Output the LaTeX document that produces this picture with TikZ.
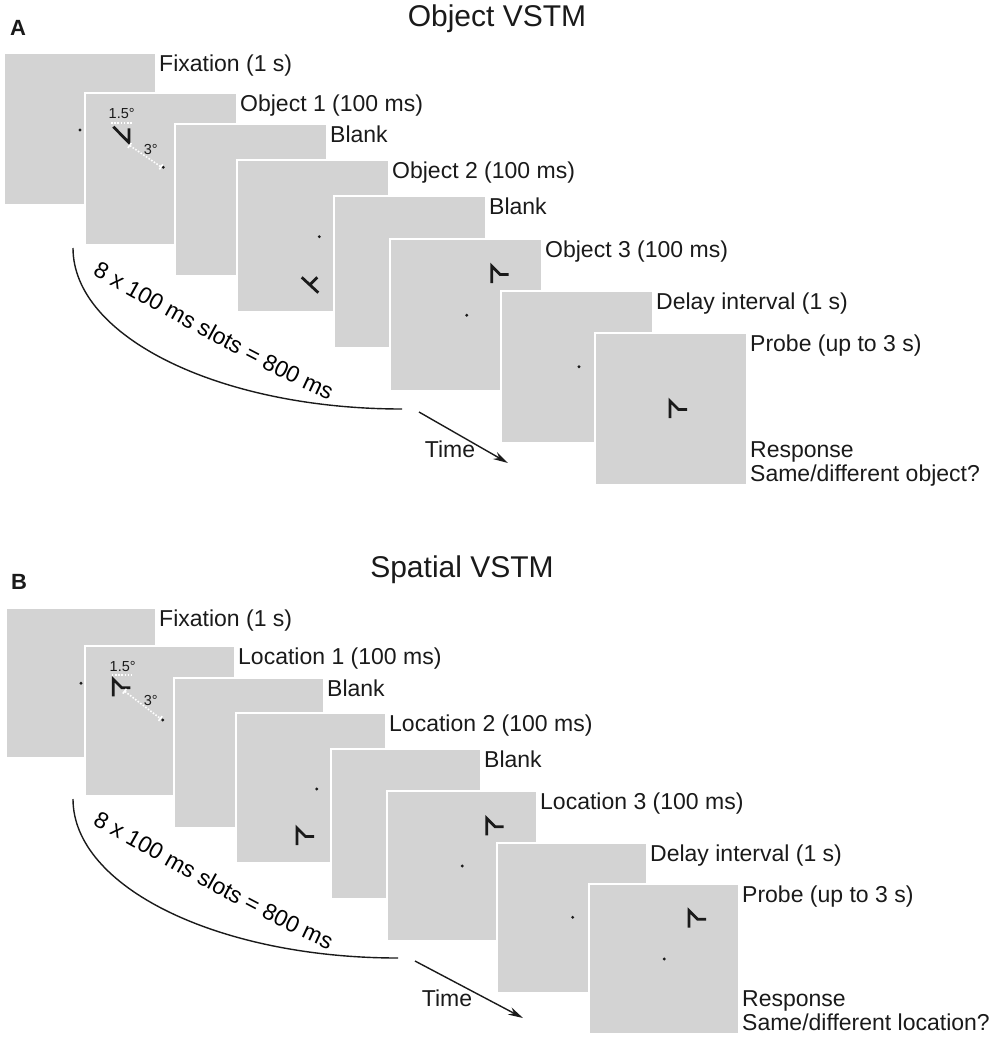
\documentclass[tikz,border=0pt]{standalone}
\usepackage{fontspec}
\setmainfont{Liberation Sans}
\usepackage{tikz}
\usetikzlibrary{arrows.meta,decorations.text,positioning}
\definecolor{screen}{HTML}{D3D3D3}
\definecolor{ink}{HTML}{1A1A1A}
\newcommand{\labfont}{\fontsize{23}{26}\selectfont}
\newcommand{\slotfont}{\fontsize{23}{26}\selectfont}
\tikzset{
  scr/.style={draw=white, line width=1.5pt, fill=screen, inner sep=0pt, outer sep=0pt, anchor=north west},
  lab/.style={font=\labfont, text=ink, inner sep=0pt, anchor=base west},
  ttl/.style={font=\fontsize{30}{34}\selectfont, text=ink, inner sep=0pt},
  pan/.style={font=\fontsize{22}{24}\selectfont\bfseries, text=ink, inner sep=0pt},
  small/.style={font=\fontsize{14.5}{16}\selectfont, text=ink, inner sep=0pt},
  stim/.style={draw=ink, line width=2.8pt, line cap=butt, line join=miter},
  fix/.style={fill=ink},
  dim/.style={draw=white, line width=1.6pt, dash pattern=on 1.6pt off 1.6pt},
  slot/.style={draw=ink, line width=1.4pt},
  hook/.pic={\draw[stim] (0,17) -- (0,0) -- (8.5,8.5) -- (17,8.5);},
}

\begin{document}
\begin{tikzpicture}[x=1pt,y=-1pt]
  \useasboundingbox (0,0) rectangle (992,1041);
  % ---- A: object VSTM
  \node[pan] (pa) at (18,28) {A};
  \node[ttl] (ta) at (497,19) {Object VSTM};
  \foreach \i/\x/\y/\t in {1/4/53/{Fixation (1 s)},2/85/93/{Object 1 (100 ms)},3/175/124/{Blank},
      4/237/160/{Object 2 (100 ms)},5/334/196/{Blank},6/390/239/{Object 3 (100 ms)},
      7/501/291/{Delay interval (1 s)},8/595/333/{Probe (up to 3 s)}}{
    \node[scr, minimum size=152pt] (a\i) at (\x,\y) {};
    \node[lab] (la\i) at ([xshift=3pt,yshift=-18pt]a\i.north east) {\t};
  }
  \node[lab] (sa) at ([xshift=3pt,yshift=4pt]a8.south east) {Same/different object?};
  \node[lab] (ra) at ([yshift=24pt]sa.base west) {Response};
  % stimuli
  \draw[dim] (111,122.7) -- (132,122.7);
  \draw[stim] (113.3,126.7) -- (129,142.7) -- (129,128.3);
  \draw[dim, {Bar[width=6pt]}-{Bar[width=6pt]}] (129,145) -- (161.7,167.3);
  \node[small] (da) at (121.7,113.3) {1.5°};
  \node[small] (ea) at (150.7,150) {3°};
  \draw[stim] (301.7,277.3) -- (318.3,292.7) (309.5,285) -- (317.3,277.3);
  \pic at (491.7,266) {hook};
  \pic at (670,401) {hook};
  \foreach \p in {(80,130),(163.3,167.3),(319.3,236.7),(466.7,315.3),(579,366.7)}
    \fill[fix] \p circle (1.6);
  % slots and time
  \coordinate (ca) at (73,248);
  \coordinate (cb) at (402,409);
  \draw[slot] (ca) .. controls (73,337) and (220,409) .. (cb);
  \path[decorate, decoration={text along path, text align={left indent=0pt},
      text={|\slotfont|8 x 100 ms slots = 800 ms}}] (92,275) .. controls (170,318) and (255,368) .. (338,404);
  \coordinate (ta0) at (419,412);
  \coordinate (ta1) at (508,463);
  \draw[slot, -{Stealth[length=15pt,width=8pt]}] (ta0) -- (ta1);
  \node[font=\labfont, text=ink, inner sep=0pt] (tma) at (450,449) {Time};

  % ---- B: spatial VSTM
  \node[pan] (pb) at (19,582) {B};
  \node[ttl] (tb) at (462,570) {Spatial VSTM};
  \foreach \i/\x/\y/\t in {1/6/608/{Fixation (1 s)},2/85/646/{Location 1 (100 ms)},3/174/678/{Blank},
      4/236/713/{Location 2 (100 ms)},5/331/749/{Blank},6/387/791/{Location 3 (100 ms)},
      7/497/843/{Delay interval (1 s)},8/589/884/{Probe (up to 3 s)}}{
    \node[scr, minimum size=150pt] (b\i) at (\x,\y) {};
    \node[lab] (lb\i) at ([xshift=3pt,yshift=-18pt]b\i.north east) {\t};
  }
  \node[lab] (sb) at ([xshift=3pt,yshift=4pt]b8.south east) {Same/different location?};
  \node[lab] (rb) at ([yshift=24pt]sb.base west) {Response};
  % stimuli
  \draw[dim] (111.7,675) -- (131.7,675);
  \pic at (113.3,679.3) {hook};
  \draw[dim, {Bar[width=6pt]}-{Bar[width=6pt]}] (124,690.7) -- (161,719);
  \node[small] (db) at (122.7,666.7) {1.5°};
  \node[small] (eb) at (150.7,700) {3°};
  \pic at (297,828) {hook};
  \pic at (486.7,818.3) {hook};
  \pic at (689,910.7) {hook};
  \foreach \p in {(81,683.3),(162.7,720),(316.7,789),(462.3,866),(572.7,917.3),(664.3,959)}
    \fill[fix] \p circle (1.6);
  % slots and time
  \coordinate (cc) at (73,799);
  \coordinate (cd) at (398,958);
  \draw[slot] (cc) .. controls (73,887) and (218,958) .. (cd);
  \path[decorate, decoration={text along path, text align={left indent=0pt},
      text={|\slotfont|8 x 100 ms slots = 800 ms}}] (92,824) .. controls (170,867) and (253,917) .. (336,953);
  \coordinate (tb0) at (415,961);
  \coordinate (tb1) at (523,1018);
  \draw[slot, -{Stealth[length=15pt,width=8pt]}] (tb0) -- (tb1);
  \node[font=\labfont, text=ink, inner sep=0pt] (tmb) at (447,998) {Time};
\end{tikzpicture}
\end{document}
